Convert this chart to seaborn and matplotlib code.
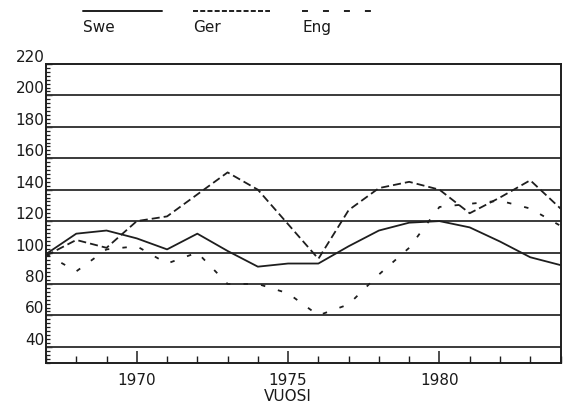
import matplotlib
matplotlib.use("Agg")
import matplotlib.pyplot as plt
import matplotlib.transforms as mtransforms
from matplotlib.lines import Line2D
from matplotlib.ticker import MultipleLocator, FixedLocator
import seaborn as sns
import pandas as pd

years = list(range(1967, 1985))
swe = [99, 112, 114, 109, 102, 112, 101, 91, 93, 93, 104, 114, 119, 120, 116, 107, 97, 92]
ger = [98, 108, 103, 120, 123, 137, 151, 140, 118, 96, 127, 141, 145, 140, 125, 135, 146, 128]
eng = [99, 88, 102, 104, 93, 100, 80, 80, 74, 60, 67, 86, 103, 129, 131, 133, 128, 117]
series_names = ["Swe", "Ger", "Eng"]
y_ticks = [40, 60, 80, 100, 120, 140, 160, 180, 200, 220]
x_ticks = [1970, 1975, 1980]
x_label = "VUOSI"

sns.set_style("ticks")
plt.rcParams["font.family"] = ["DejaVu Sans"]
plt.rcParams["lines.scale_dashes"] = False

ink = "#1e1e1e"
line_styles = {
    "Swe": "-",
    "Ger": (0, (5.8, 2.9)),
    "Eng": (0, (3.2, 9.5)),
}
legend_styles = {
    "Swe": "-",
    "Ger": (0, (3.6, 1.6)),
    "Eng": (0, (4.3, 10.8)),
}

df = pd.DataFrame({"year": years, "Swe": swe, "Ger": ger, "Eng": eng})

fig = plt.figure(figsize=(5.66, 4.06), dpi=100)
ax = fig.add_axes([46 / 566, 1 - 363.5 / 406, (560.5 - 46) / 566, (363.5 - 65) / 406])

# horizontal reference lines at the labelled values
for v in y_ticks[:-1]:
    ax.axhline(v, color="#333333", lw=1.35, zorder=1)

for name in series_names:
    sns.lineplot(data=df, x="year", y=name, ax=ax, color=ink, linewidth=1.3,
                 linestyle=line_styles[name], zorder=3)

ax.set_xlim(1967, 1984)
ax.set_ylim(30, 220)
ax.set_xlabel("")
ax.set_ylabel("")

ax.xaxis.set_major_locator(FixedLocator(x_ticks))
ax.xaxis.set_minor_locator(MultipleLocator(1))
ax.yaxis.set_major_locator(FixedLocator(y_ticks))
ax.yaxis.set_minor_locator(MultipleLocator(2.5))
ax.set_xticklabels([str(x) for x in x_ticks])
ax.set_yticklabels([str(v) for v in y_ticks])

ax.tick_params(axis="x", which="major", direction="in", length=9, width=1.1,
               color=ink, labelsize=11, pad=7, labelcolor="#1a1a1a")
ax.tick_params(axis="x", which="minor", direction="in", length=5, width=1.0, color=ink)
ax.tick_params(axis="y", which="major", direction="in", length=4, width=1.0,
               color=ink, labelsize=11, pad=1, labelcolor="#1a1a1a")
ax.tick_params(axis="y", which="minor", direction="in", length=3, width=0.9, color=ink)
for tick in ax.yaxis.get_major_ticks():
    tick.label1.set_verticalalignment("bottom")

for side in ["left", "right", "top", "bottom"]:
    ax.spines[side].set_visible(True)
    ax.spines[side].set_color(ink)
    ax.spines[side].set_linewidth(1.4)

trans = mtransforms.blended_transform_factory(ax.transData, fig.transFigure)
ax.text(1975, 1 - 397 / 406, x_label, transform=trans, ha="center", va="center",
        fontsize=11, color="#1a1a1a")

# legend: sample line above each series name
legend_items = [("Swe", 83, 162), ("Ger", 193, 270), ("Eng", 302, 372)]
for name, x0, x1 in legend_items:
    y = 1 - 12 / 406
    fig.add_artist(Line2D([x0 / 566, x1 / 566], [y, y], transform=fig.transFigure,
                          color=ink, lw=1.4, linestyle=legend_styles[name]))
    fig.text(x0 / 566, 1 - 32 / 406, name, ha="left", va="baseline", fontsize=11,
             color="#1a1a1a")

fig.savefig("out.png", dpi=100, facecolor="white")
